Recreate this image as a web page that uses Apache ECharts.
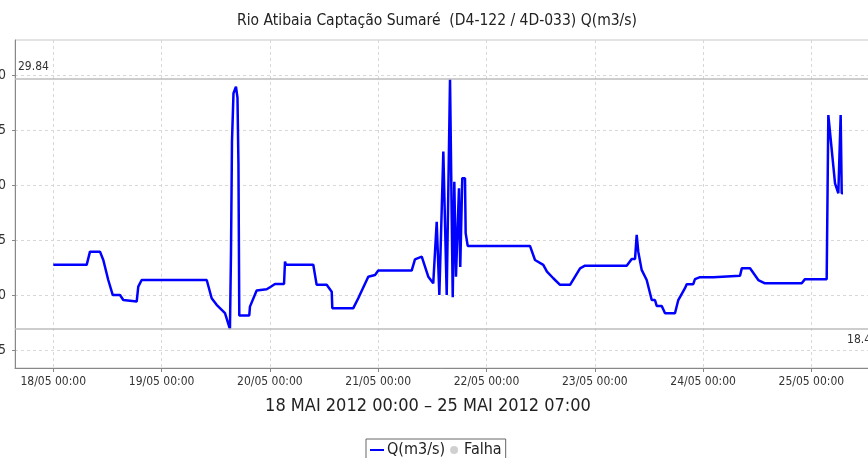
<!DOCTYPE html>
<html>
<head>
<meta charset="utf-8">
<script src="https://cdn.jsdelivr.net/npm/echarts@6.0.0/dist/echarts.min.js"></script>
<style>
  html, body { margin: 0; padding: 0; background: #fff; }
  #chart { width: 868px; height: 458px; }
</style>
</head>
<body>
<div id="chart"></div>
<script>
// vazão Q(m3/s)
const times = [
  '2012-05-18 00:00', '2012-05-18 07:24', '2012-05-18 08:08', '2012-05-18 10:21', '2012-05-18 11:05',
  '2012-05-18 12:11', '2012-05-18 13:10', '2012-05-18 14:47', '2012-05-18 15:31', '2012-05-18 18:29',
  '2012-05-18 18:50', '2012-05-18 19:35', '2012-05-19 10:00', '2012-05-19 11:06', '2012-05-19 12:12',
  '2012-05-19 14:03', '2012-05-19 15:09', '2012-05-19 15:23', '2012-05-19 15:36', '2012-05-19 15:56',
  '2012-05-19 16:29', '2012-05-19 16:49', '2012-05-19 17:02', '2012-05-19 17:13', '2012-05-19 19:26',
  '2012-05-19 19:35', '2012-05-19 21:04', '2012-05-19 23:17', '2012-05-20 00:01', '2012-05-20 01:08',
  '2012-05-20 03:08', '2012-05-20 03:21', '2012-05-20 03:34', '2012-05-20 09:37', '2012-05-20 10:22',
  '2012-05-20 12:35', '2012-05-20 13:42', '2012-05-20 13:50', '2012-05-20 18:29', '2012-05-20 19:35',
  '2012-05-20 21:48', '2012-05-20 23:18', '2012-05-21 00:01', '2012-05-21 07:25', '2012-05-21 08:09',
  '2012-05-21 09:39', '2012-05-21 11:06', '2012-05-21 12:12', '2012-05-21 12:58', '2012-05-21 13:33',
  '2012-05-21 14:26', '2012-05-21 15:11', '2012-05-21 15:55', '2012-05-21 16:31', '2012-05-21 16:52',
  '2012-05-21 17:14', '2012-05-21 17:54', '2012-05-21 18:11', '2012-05-21 18:38', '2012-05-21 19:14',
  '2012-05-21 19:23', '2012-05-21 19:50', '2012-05-22 09:38', '2012-05-22 10:45', '2012-05-22 12:35',
  '2012-05-22 13:24', '2012-05-22 14:48', '2012-05-22 16:18', '2012-05-22 18:31', '2012-05-22 20:44',
  '2012-05-22 21:50', '2012-05-23 07:04', '2012-05-23 08:11', '2012-05-23 08:55', '2012-05-23 09:17',
  '2012-05-23 09:38', '2012-05-23 10:23', '2012-05-23 11:30', '2012-05-23 12:37', '2012-05-23 13:20',
  '2012-05-23 13:43', '2012-05-23 14:50', '2012-05-23 15:34', '2012-05-23 17:46', '2012-05-23 18:30',
  '2012-05-23 19:59', '2012-05-23 20:22', '2012-05-23 21:49', '2012-05-23 22:12', '2012-05-23 23:19',
  '2012-05-24 02:16', '2012-05-24 02:38', '2012-05-24 08:11', '2012-05-24 08:34', '2012-05-24 10:24',
  '2012-05-24 12:14', '2012-05-24 13:43', '2012-05-24 21:51', '2012-05-24 22:35', '2012-05-25 03:23',
  '2012-05-25 03:45', '2012-05-25 04:07', '2012-05-25 05:14', '2012-05-25 05:58', '2012-05-25 06:20',
  '2012-05-25 06:29', '2012-05-25 06:43', '2012-05-25 07:00'
];
const flow = [
  21.4, 21.4, 22.0, 22.0, 21.62,
  20.71, 20.03, 20.03, 19.8, 19.73,
  20.41, 20.71, 20.71, 19.88, 19.58,
  19.2, 18.48, 22.0, 27.0, 29.2,
  29.5, 29.0, 26.0, 19.1, 19.1,
  19.5, 20.23, 20.29, 20.38, 20.53,
  20.53, 21.55, 21.4, 21.4, 20.49,
  20.49, 20.18, 19.43, 19.43, 19.88,
  20.86, 20.94, 21.14, 21.14, 21.65,
  21.77, 20.86, 20.56, 23.36, 20.03,
  26.55, 20.03, 29.84, 19.93, 25.18,
  20.86, 24.88, 21.3, 25.34, 25.34,
  22.84, 22.26, 22.26, 21.62, 21.4,
  21.09, 20.79, 20.49, 20.49, 21.24,
  21.36, 21.36, 21.67, 21.67, 22.76,
  22.0, 21.17, 20.71, 19.8, 19.8,
  19.53, 19.53, 19.2, 19.2, 19.8,
  20.34, 20.52, 20.52, 20.75, 20.84,
  20.84, 20.9, 20.9, 21.24, 21.24,
  20.71, 20.56, 20.56, 20.75, 20.75,
  28.21, 28.26, 25.1, 24.65, 24.65,
  28.21, 24.65, 24.65
];
const dayTicks = [
  '2012-05-18 00:00', '2012-05-19 00:00', '2012-05-20 00:00', '2012-05-21 00:00',
  '2012-05-22 00:00', '2012-05-23 00:00', '2012-05-24 00:00', '2012-05-25 00:00'
];
const yTicks = [17.5, 20, 22.5, 25, 27.5, 30];
const limitValues = [29.84, 18.48];

const font = "'DejaVu Sans Condensed', 'DejaVu Sans', sans-serif";
const chart = echarts.init(document.getElementById('chart'));

const dayValues = dayTicks.map(d => +echarts.time.parse(d));

chart.setOption({
  animation: false,
  textStyle: { fontFamily: font },
  title: [
    {
      text: 'Rio Atibaia Captação Sumaré  (D4-122 / 4D-033) Q(m3/s)',
      left: 437, top: 13, padding: 0, textAlign: 'center',
      textStyle: { fontFamily: font, fontSize: 15.5, fontWeight: 'normal', color: '#222' }
    },
    {
      text: '18 MAI 2012 00:00 – 25 MAI 2012 07:00',
      left: 428, top: 397, padding: 0, textAlign: 'center',
      textStyle: { fontFamily: font, fontSize: 18, fontWeight: 'normal', color: '#222' }
    }
  ],
  legend: {
    left: 366, top: 439,
    padding: [3, 4, 8, 4],
    itemGap: 5, itemWidth: 14, itemHeight: 8,
    symbolKeepAspect: true,
    borderColor: '#666', borderWidth: 1,
    textStyle: { fontFamily: font, fontSize: 16, color: '#222', padding: [0, 0, 0, -2] },
    data: [
      { name: 'Q(m3/s)', icon: 'path://M0,0 L14,0 L14,2 L0,2 Z' },
      { name: 'Falha', icon: 'circle' }
    ]
  },
  grid: {
    left: 15, top: 40, right: -12, bottom: 90,
    outerBoundsMode: 'none', containLabel: false,
    show: true, borderColor: '#c8c8c8', borderWidth: 1
  },
  xAxis: {
    type: 'time',
    min: '2012-05-17 15:31',
    max: '2012-05-25 15:12',
    axisLine: { lineStyle: { color: '#888', width: 1 } },
    axisTick: { length: 4, lineStyle: { color: '#888' }, customValues: dayValues },
    axisLabel: {
      customValues: dayValues,
      formatter: '{dd}/{MM} {HH}:{mm}',
      fontFamily: font, fontSize: 12, color: '#333', margin: 8
    },
    splitLine: { show: true, lineStyle: { color: '#d8d8d8', type: [3, 3] } }
  },
  yAxis: {
    type: 'value',
    min: 16.71, max: 31.62,
    axisLine: { show: true, lineStyle: { color: '#888', width: 1 } },
    axisTick: { show: true, length: 3, lineStyle: { color: '#888' }, customValues: yTicks },
    axisLabel: {
      customValues: yTicks,
      formatter: v => v.toFixed(1),
      fontFamily: font, fontSize: 14, color: '#333', margin: 9
    },
    splitLine: { show: true, lineStyle: { color: '#d8d8d8', type: [3, 3] } }
  },
  series: [
    {
      name: 'Q(m3/s)',
      type: 'line',
      symbol: 'none',
      color: '#0000ff',
      lineStyle: { width: 2.5, color: '#0000ff' },
      data: times.map((t, i) => [t, flow[i]]),
      markLine: {
        silent: true,
        symbol: 'none',
        animation: false,
        lineStyle: { color: '#bdbdbd', type: 'solid', width: 1.5 },
        data: [
          { yAxis: limitValues[0], label: { position: 'insideStartTop', distance: [3, 6] } },
          { yAxis: limitValues[1], label: { position: 'insideEndBottom', distance: [2, 5] } }
        ],
        label: {
          formatter: p => p.value.toFixed(2),
          fontFamily: font, fontSize: 12, color: '#333'
        }
      }
    },
    {
      name: 'Falha',
      type: 'scatter',
      symbol: 'circle',
      color: '#c4c4c4',
      data: []
    }
  ]
});
</script>
</body>
</html>
